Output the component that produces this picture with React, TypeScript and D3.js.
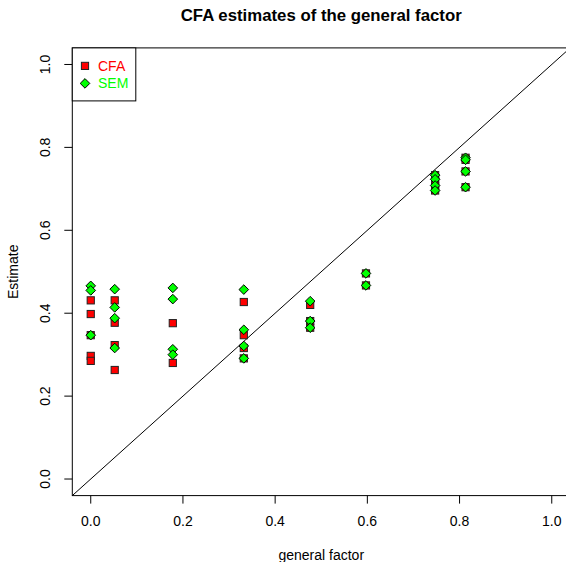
import * as d3 from "d3";

// loading on the general factor (x) for each group of items
const generalLoadings = [0, 0.052, 0.178, 0.332, 0.476, 0.597, 0.747, 0.813];

// CFA estimates, one list per general loading
const cfaEstimates = [
  [0.431, 0.398, 0.347, 0.297, 0.285],
  [0.431, 0.377, 0.323, 0.263],
  [0.376, 0.28],
  [0.427, 0.347, 0.316, 0.291],
  [0.42, 0.381, 0.365],
  [0.496, 0.467],
  [0.733, 0.72, 0.708, 0.696],
  [0.775, 0.77, 0.742, 0.704],
];

// SEM estimates, one list per general loading
const semEstimates = [
  [0.466, 0.455, 0.347],
  [0.458, 0.414, 0.388, 0.316],
  [0.461, 0.434, 0.313, 0.3],
  [0.457, 0.36, 0.321, 0.291],
  [0.429, 0.381, 0.365],
  [0.496, 0.467],
  [0.733, 0.723, 0.708, 0.696],
  [0.775, 0.77, 0.742, 0.704],
];

const ticks = [0, 0.2, 0.4, 0.6, 0.8, 1.0];
const legendItems = ["CFA", "SEM"];

const W = 566;
const H = 562;
const font = "'Liberation Sans', Arial, Helvetica, sans-serif";

const cfaColor = "#ff0000";
const semColor = "#00ff00";

export default function App() {
  // R style axes: domain padded 4% on either side
  const x = d3.scaleLinear().domain([-0.04, 1.04]).range([72.3, 570.2]);
  const y = d3.scaleLinear().domain([-0.04, 1.04]).range([495.6, 47.9]);

  const [x0, x1] = x.range();
  const [y0, y1] = y.range();

  const cfaPoints = generalLoadings.flatMap((g, i) =>
    cfaEstimates[i].map((v) => ({ g, v }))
  );
  const semPoints = generalLoadings.flatMap((g, i) =>
    semEstimates[i].map((v) => ({ g, v }))
  );

  const diamond = (cx: number, cy: number, r: number) =>
    `M${cx},${cy - r}L${cx + r},${cy}L${cx},${cy + r}L${cx - r},${cy}Z`;

  return (
    <svg
      width={W}
      height={H}
      style={{ position: "absolute", left: 0, top: 0, background: "#fff" }}
      fontFamily={font}
    >
      <defs>
        <clipPath id="plotclip">
          <rect x={x0} y={y1} width={x1 - x0} height={y0 - y1} />
        </clipPath>
      </defs>

      {/* title */}
      <text x={(x0 + x1) / 2} y={21} textAnchor="middle" fontSize={16.8} fontWeight="bold">
        CFA estimates of the general factor
      </text>

      {/* identity line */}
      <line
        x1={x(-0.04)}
        y1={y(-0.04)}
        x2={x(1.04)}
        y2={y(1.04)}
        stroke="#000"
        strokeWidth={1}
        clipPath="url(#plotclip)"
      />

      {/* CFA points */}
      {cfaPoints.map((d, i) => (
        <rect
          key={"c" + i}
          x={x(d.g) - 3.6}
          y={y(d.v) - 3.6}
          width={7.2}
          height={7.2}
          fill={cfaColor}
          stroke="#222"
          strokeWidth={1}
        />
      ))}

      {/* SEM points */}
      {semPoints.map((d, i) => (
        <path
          key={"s" + i}
          d={diamond(x(d.g), y(d.v), 4.8)}
          fill={semColor}
          stroke="#000"
          strokeWidth={1}
        />
      ))}

      {/* plot frame */}
      <rect x={x0} y={y1} width={x1 - x0} height={y0 - y1} fill="none" stroke="#000" strokeWidth={1} />

      {/* x axis */}
      <g>
        {ticks.map((t) => (
          <g key={"xt" + t}>
            <line x1={x(t)} x2={x(t)} y1={y0} y2={y0 + 8} stroke="#000" />
            <text x={x(t)} y={y0 + 30} textAnchor="middle" fontSize={14}>
              {t.toFixed(1)}
            </text>
          </g>
        ))}
        <text x={(x0 + x1) / 2} y={560} textAnchor="middle" fontSize={14}>
          general factor
        </text>
      </g>

      {/* y axis */}
      <g>
        {ticks.map((t) => (
          <g key={"yt" + t}>
            <line x1={x0} x2={x0 - 8} y1={y(t)} y2={y(t)} stroke="#000" />
            <text
              transform={`translate(${x0 - 22},${y(t)}) rotate(-90)`}
              textAnchor="middle"
              fontSize={14}
            >
              {t.toFixed(1)}
            </text>
          </g>
        ))}
        <text
          transform={`translate(18,${(y0 + y1) / 2}) rotate(-90)`}
          textAnchor="middle"
          fontSize={14}
        >
          Estimate
        </text>
      </g>

      {/* legend */}
      <g>
        <rect x={x0} y={y1} width={63.5} height={53} fill="#fff" stroke="#000" strokeWidth={1} />
        {legendItems.map((name, i) => {
          const ly = y1 + 18 + i * 17.5;
          return (
            <g key={name}>
              {i === 0 ? (
                <rect x={85 - 3.6} y={ly - 3.6} width={7.2} height={7.2} fill={cfaColor} stroke="#222" />
              ) : (
                <path d={diamond(85, ly, 4.8)} fill={semColor} stroke="#000" />
              )}
              <text x={98} y={ly + 5} fontSize={14} fill={i === 0 ? cfaColor : semColor}>
                {name}
              </text>
            </g>
          );
        })}
      </g>
    </svg>
  );
}
